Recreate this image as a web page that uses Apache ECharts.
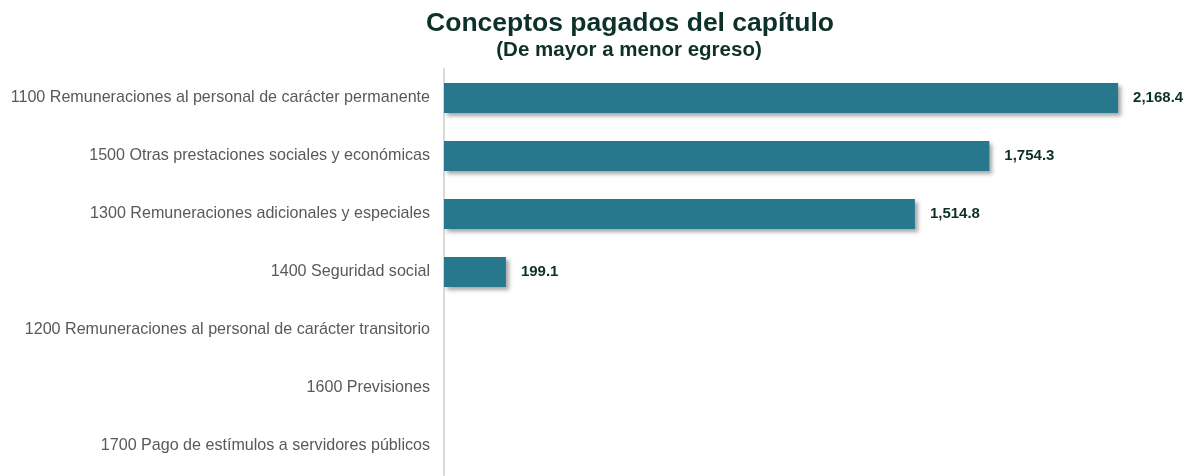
<!DOCTYPE html>
<html>
<head>
<meta charset="utf-8">
<script src="https://cdn.jsdelivr.net/npm/echarts@6/dist/echarts.min.js"></script>
<style>
html,body{margin:0;padding:0;background:#fff;}
#chart{width:1189px;height:476px;}
</style>
</head>
<body>
<div id="chart"></div>
<script>
const categories = [
  "1100 Remuneraciones al personal de carácter permanente",
  "1500 Otras prestaciones sociales y económicas",
  "1300 Remuneraciones adicionales y especiales",
  "1400 Seguridad social",
  "1200 Remuneraciones al personal de carácter transitorio",
  "1600 Previsiones",
  "1700 Pago de estímulos a servidores públicos"
];
const values = [2168.4, 1754.3, 1514.8, 199.1, null, null, null];

const chart = echarts.init(document.getElementById('chart'));
const fmt = v => v.toLocaleString('en-US', {minimumFractionDigits: 1, maximumFractionDigits: 1});
chart.setOption({
  animation: false,
  backgroundColor: '#ffffff',
  title: [
    {text: 'Conceptos pagados del capítulo', left: 625, top: 5, textAlign: 'center',
     textStyle: {fontFamily: 'Liberation Sans', fontSize: 26.5, fontWeight: 'bold', color: '#0d3128'}},
    {text: '(De mayor a menor egreso)', left: 624, top: 35, textAlign: 'center',
     textStyle: {fontFamily: 'Liberation Sans', fontSize: 20.5, fontWeight: 'bold', color: '#0d3128'}}
  ],
  grid: {left: 444, top: 69, width: 715, height: 406, containLabel: false},
  xAxis: {type: 'value', min: 0, max: 2300, show: false},
  yAxis: {
    type: 'category', inverse: true, data: categories,
    axisLine: {show: true, lineStyle: {color: '#d9d9d9', width: 2}},
    axisTick: {show: false},
    axisLabel: {margin: 14, fontFamily: 'Liberation Sans', fontSize: 16.1, color: '#595959', padding: [3, 0, 0, 0]}
  },
  series: [{
    type: 'bar', data: values, barWidth: 30,
    itemStyle: {color: '#28788d', shadowColor: 'rgba(0,0,0,0.35)', shadowBlur: 4, shadowOffsetX: 3, shadowOffsetY: 3},
    label: {show: true, position: 'right', distance: 15, fontFamily: 'Liberation Sans', fontSize: 15,
      fontWeight: 'bold', color: '#0d3128', formatter: p => fmt(p.value)}
  }]
});
</script>
</body>
</html>
